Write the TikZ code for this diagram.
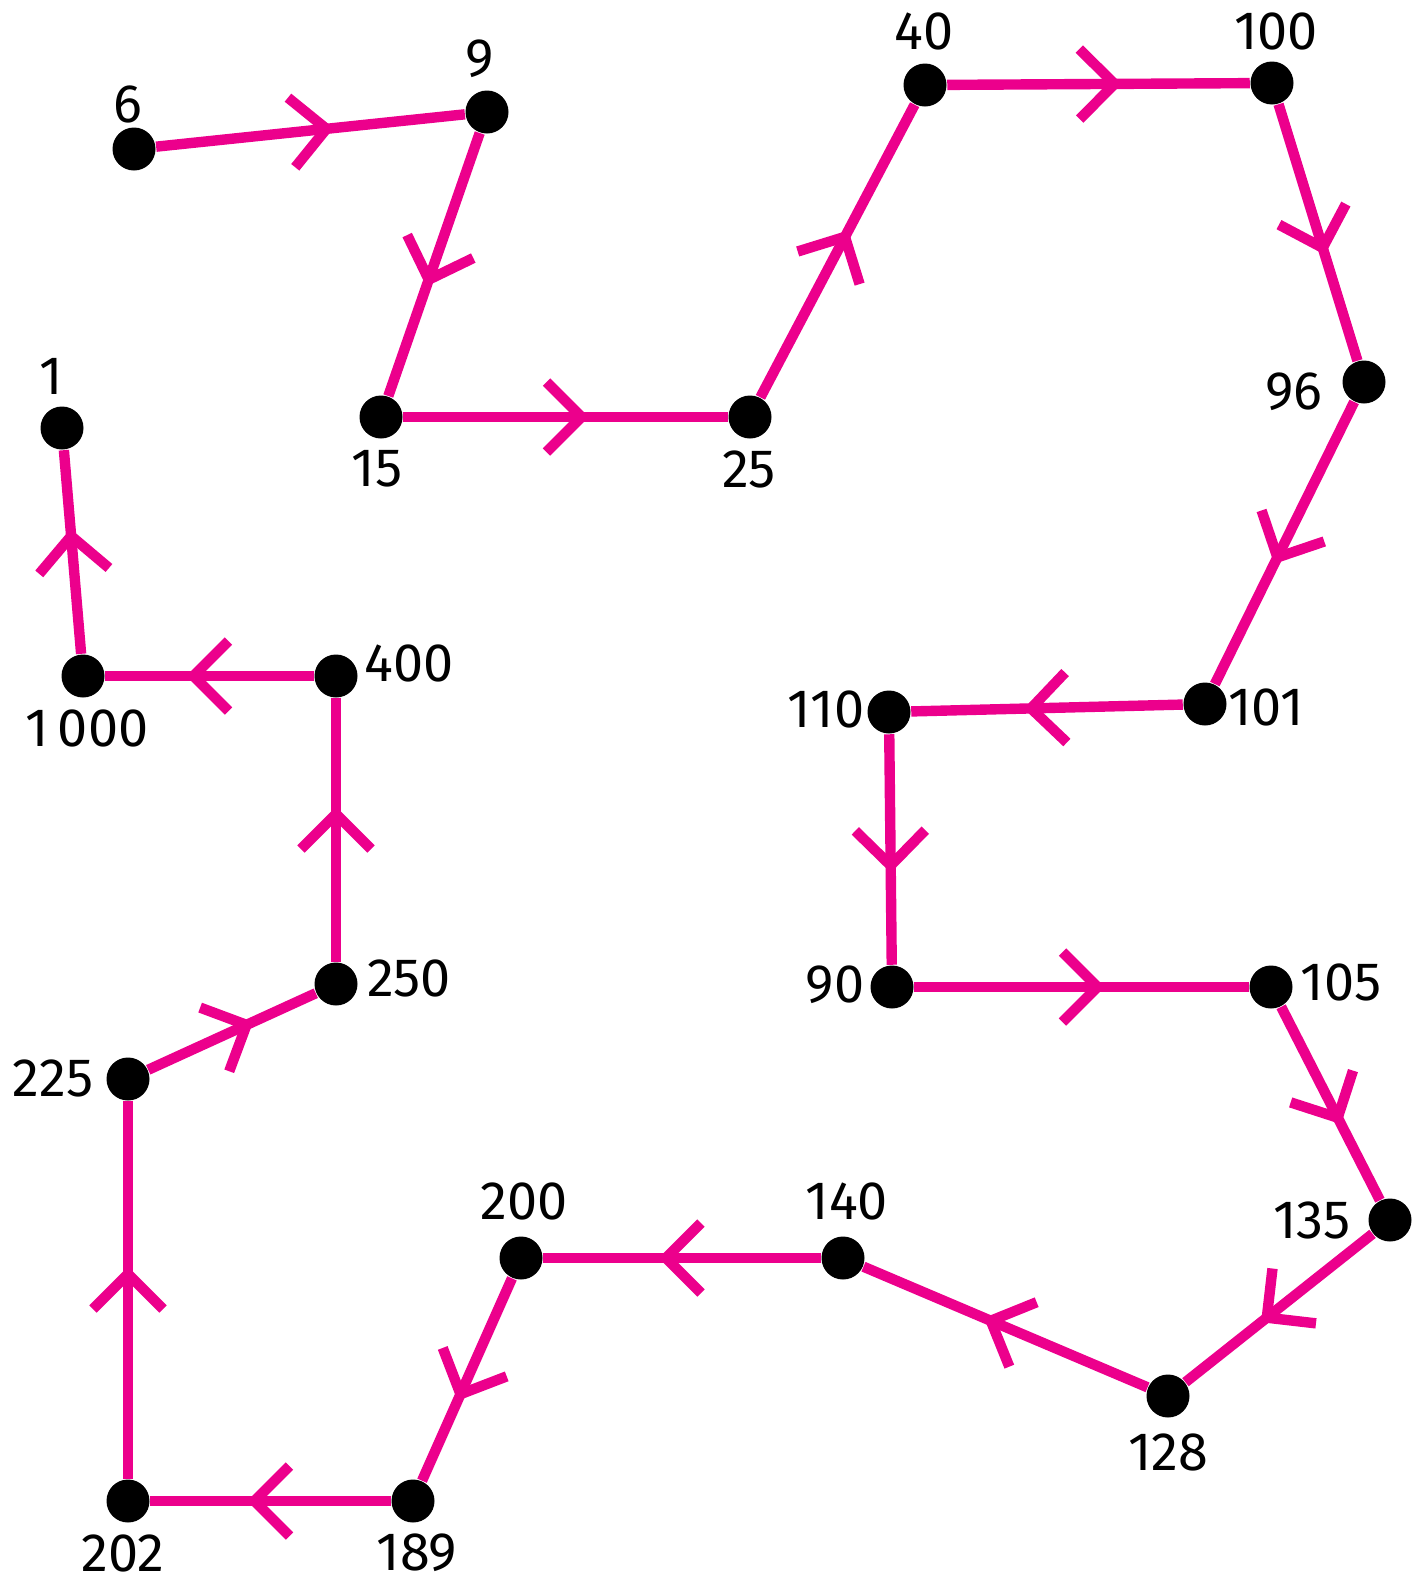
\documentclass[tikz,border=0pt]{standalone}
\usepackage{fontspec}
\setmainfont{Fira Sans}
\usetikzlibrary{decorations.markings}

\definecolor{trail}{RGB}{236,0,140}

\tikzset{every picture/.style={line width=0.75pt}}
\tikzset{
  dot/.style={circle,fill=black,inner sep=0pt,minimum size=21.5pt},
  num/.style={inner sep=0pt,font=\fontsize{27}{27}\selectfont},
  leg/.style={draw=trail,line width=5.2pt,
    postaction={decorate,decoration={markings,
      mark=at position 0.5 with {\draw[draw=trail,line width=5.2pt,line join=miter,line cap=butt]
        (-9.5pt,17.5pt) -- (8pt,0pt) -- (-9.5pt,-17.5pt);}}}},
}

\begin{document}
\begin{tikzpicture}[x=0.5pt,y=0.5pt,yscale=-1,xscale=1]
%set diagram left start at 0, and has height of 1585
\useasboundingbox (0,0) rectangle (1424,1585);

%Shape: Circle -- the dots
\node[dot] (n6)    at (134,149)  {};
\node[dot] (n9)    at (487,112)  {};
\node[dot] (n15)   at (381,417)  {};
\node[dot] (n25)   at (750,417)  {};
\node[dot] (n40)   at (925,85)   {};
\node[dot] (n100)  at (1272,83)  {};
\node[dot] (n96)   at (1364,382) {};
\node[dot] (n101)  at (1205,704) {};
\node[dot] (n110)  at (889,712)  {};
\node[dot] (n90)   at (892,987)  {};
\node[dot] (n105)  at (1271,987) {};
\node[dot] (n135)  at (1390,1220) {};
\node[dot] (n128)  at (1168,1396) {};
\node[dot] (n140)  at (843,1258) {};
\node[dot] (n200)  at (521,1258) {};
\node[dot] (n189)  at (413,1501) {};
\node[dot] (n202)  at (128,1501) {};
\node[dot] (n225)  at (128,1079) {};
\node[dot] (n250)  at (336,984)  {};
\node[dot] (n400)  at (336,676)  {};
\node[dot] (n1000) at (83,676)   {};
\node[dot] (n1)    at (62,428)   {};

%Straight Lines -- the trail, dot to dot
\draw[leg] (n6) -- (n9);
\draw[leg] (n9) -- (n15);
\draw[leg] (n15) -- (n25);
\draw[leg] (n25) -- (n40);
\draw[leg] (n40) -- (n100);
\draw[leg] (n100) -- (n96);
\draw[leg] (n96) -- (n101);
\draw[leg] (n101) -- (n110);
\draw[leg] (n110) -- (n90);
\draw[leg] (n90) -- (n105);
\draw[leg] (n105) -- (n135);
\draw[leg] (n135) -- (n128);
\draw[leg] (n128) -- (n140);
\draw[leg] (n140) -- (n200);
\draw[leg] (n200) -- (n189);
\draw[leg] (n189) -- (n202);
\draw[leg] (n202) -- (n225);
\draw[leg] (n225) -- (n250);
\draw[leg] (n250) -- (n400);
\draw[leg] (n400) -- (n1000);
\draw[leg] (n1000) -- (n1);

% Text Node
\node[num] (l6)    at (128,104)  {6};
% Text Node
\node[num] (l9)    at (480,59)   {9};
% Text Node
\node[num] (l15)   at (377,469)  {15};
% Text Node
\node[num] (l25)   at (749,469)  {25};
% Text Node
\node[num] (l40)   at (924,31)   {40};
% Text Node
\node[num] (l100)  at (1276,31)  {100};
% Text Node
\node[num] (l96)   at (1294,392) {96};
% Text Node
\node[num] (l101)  at (1266,707) {101};
% Text Node
\node[num] (l110)  at (826,709)  {110};
% Text Node
\node[num] (l90)   at (835,985)  {90};
% Text Node
\node[num] (l105)  at (1341,982) {105};
% Text Node
\node[num] (l135)  at (1312,1220) {135};
% Text Node
\node[num] (l128)  at (1168,1452) {128};
% Text Node
\node[num] (l140)  at (847,1201) {140};
% Text Node
\node[num] (l200)  at (524,1201) {200};
% Text Node
\node[num] (l189)  at (417,1553) {189};
% Text Node
\node[num] (l202)  at (123,1553) {202};
% Text Node
\node[num] (l225)  at (53,1078)  {225};
% Text Node
\node[num] (l250)  at (409,978)  {250};
% Text Node
\node[num] (l400)  at (409,663)  {400};
% Text Node
\node[num] (l1000) at (87,728)   {1\,000};
% Text Node
\node[num] (l1)    at (51,376)   {1};

\end{tikzpicture}
\end{document}
